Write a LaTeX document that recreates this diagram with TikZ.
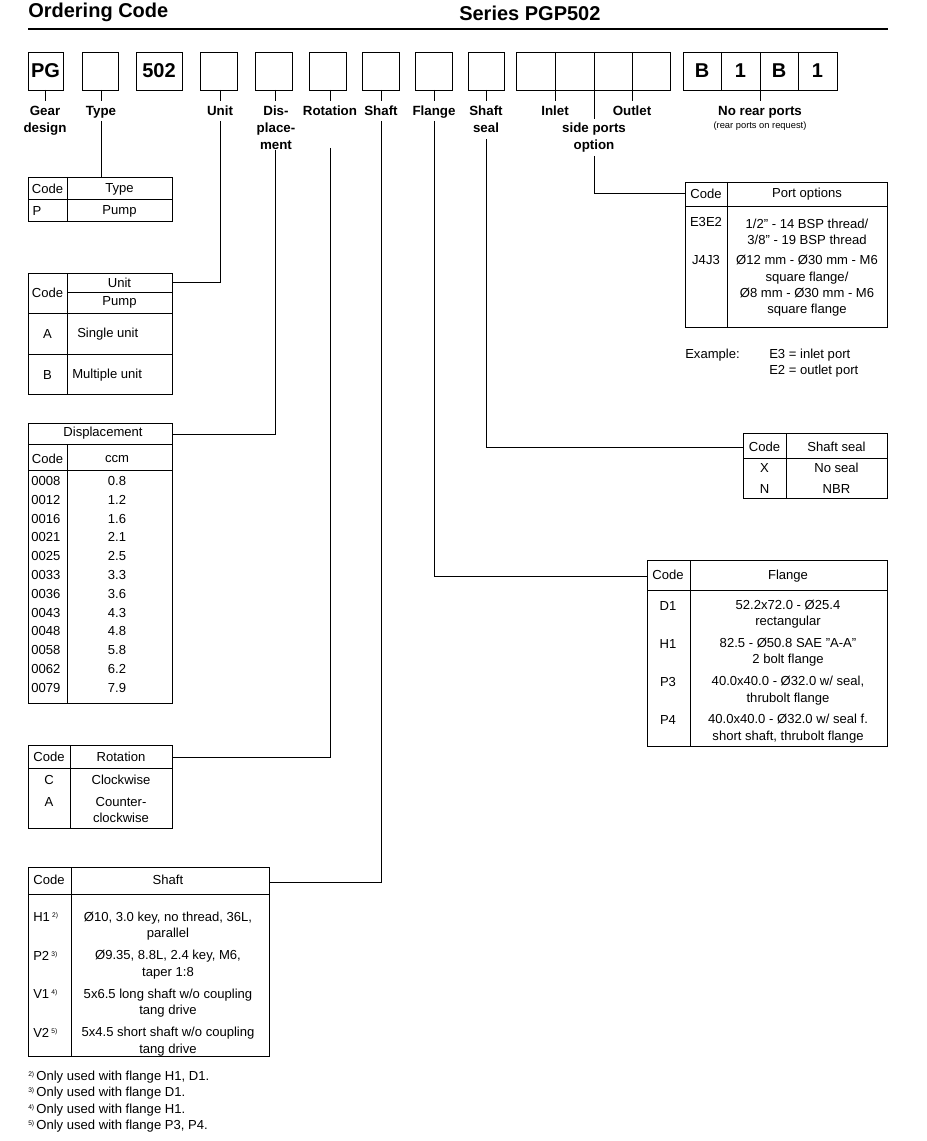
\documentclass[tikz,border=0pt]{standalone}
\usepackage{fontspec}
\setmainfont{Liberation Sans}
\usetikzlibrary{positioning}
\begin{document}
\begin{tikzpicture}[
  x=0.75pt, y=-0.75pt,
  every node/.style={inner sep=0pt, font=\fontsize{9.8}{12.2}\selectfont},
  lbl/.style={font=\fontsize{10}{12.5}\selectfont\bfseries, align=center, anchor=north},
  tcell/.style={align=center},
  grid/.style={draw, line width=0.7pt},
  lead/.style={draw, line width=0.5pt}
  ]
  \useasboundingbox (0,0) rectangle (926,1141);

  % title
  \node[anchor=west, font=\fontsize{15}{16}\selectfont\bfseries] (title) at (28,12) {Ordering Code};
  \node[anchor=west, font=\fontsize{15}{16}\selectfont\bfseries] (series) at (459,13) {Series PGP502};
  \draw[line width=2.2pt] (28,29) -- (888,29);

  % code boxes
  \draw[grid] (28,52) rectangle (63,90);
  \node[font=\fontsize{15}{15}\selectfont\bfseries] (bPG) at (45.5,71) {PG};
  \draw[grid] (82,52) rectangle (118,90);
  \draw[grid] (136,52) rectangle (182,90);
  \node[font=\fontsize{15}{15}\selectfont\bfseries] (b502) at (159,71) {502};
  \foreach \xa/\xb in {200/237,255/292,309/346,362/399,415/452,468/504}
    \draw[grid] (\xa,52) rectangle (\xb,90);
  \draw[grid] (516,52) rectangle (670,90);
  \foreach \xx in {555,594,632} \draw[grid] (\xx,52) -- (\xx,90);
  \draw[grid] (683,52) rectangle (837,90);
  \foreach \xx in {721,760,798} \draw[grid] (\xx,52) -- (\xx,90);
  \foreach \xx/\ch in {702/B,740.5/1,779/B,817.5/1}
    \node[font=\fontsize{15}{15}\selectfont\bfseries] at (\xx,71) {\ch};

  % ticks
  \foreach \xx in {45,101,220,275,330,381,434,486,555,632,760}
    \draw[lead] (\xx,90) -- (\xx,101);
  \draw[lead] (594,90) -- (594,119);

  % labels
  \node[lbl] (lGear) at (45,106) {Gear\\design};
  \node[lbl] (lType) at (101,106) {Type};
  \node[lbl] (lUnit) at (220,106) {Unit};
  \node[lbl] (lDisp) at (276,106) {Dis-\\place-\\ment};
  \node[lbl] (lRot) at (330,106) {Rotation};
  \node[lbl] (lShaft) at (381,106) {Shaft};
  \node[lbl] (lFlange) at (434,106) {Flange};
  \node[lbl] (lSeal) at (486,106) {Shaft\\seal};
  \node[lbl] (lInlet) at (555,106) {Inlet};
  \node[lbl] (lOutlet) at (632,106) {Outlet};
  \node[lbl] (lSide) at (594,123) {side ports\\option};
  \node[lbl] (lRear) at (760,106) {No rear ports};
  \node[anchor=north, font=\fontsize{7}{8}\selectfont] (lReq) at (760,121) {(rear ports on request)};

  % leader end points
  \coordinate (cType) at (101,177);
  \coordinate (cUnit) at (172,282);
  \coordinate (cDisp) at (172,434);
  \coordinate (cRot) at (172,757);
  \coordinate (cShaft) at (269,882);
  \coordinate (cFlange) at (647,576);
  \coordinate (cSeal) at (743,447);
  \coordinate (cPort) at (685,193);

  \draw[lead] (101,121) -- (cType);
  \draw[lead] (220,121) |- (cUnit);
  \draw[lead] (275,150) |- (cDisp);
  \draw[lead] (330,148) |- (cRot);
  \draw[lead] (381,121) |- (cShaft);
  \draw[lead] (434,121) |- (cFlange);
  \draw[lead] (486,139) |- (cSeal);
  \draw[lead] (594,156) |- (cPort);

  % Type table
  \draw[grid] (28,177) rectangle (172,221);
  \draw[grid] (67,177) -- (67,221) (28,199) -- (172,199);
  \node (tTc) at (47.5,189) {Code};
  \node (tTt) at (119.5,189) {Type};
  \node (tTp) at (37,211) {P};
  \node (tTpu) at (119.5,211) {Pump};

  % Unit table
  \draw[grid] (28,273) rectangle (172,394);
  \draw[grid] (67,273) -- (67,394) (67,292) -- (172,292) (28,313) -- (172,313) (28,354) -- (172,354);
  \node (tUc) at (47.5,293) {Code};
  \node (tUu) at (119.5,283) {Unit};
  \node (tUp) at (119.5,302) {Pump};
  \node (tUa) at (47.5,334) {A};
  \node[anchor=west] (tUs) at (77,334) {Single unit};
  \node (tUb) at (47.5,375) {B};
  \node[anchor=west] (tUm) at (72,375) {Multiple unit};

  % Displacement table
  \draw[grid] (28,423) rectangle (172,703);
  \draw[grid] (28,444) -- (172,444) (28,470) -- (172,470) (67,444) -- (67,703);
  \node (tDh) at (103,433) {Displacement};
  \node (tDc) at (47.5,459) {Code};
  \node (tDccm) at (117,459) {ccm};
  \foreach \cc/\vv [count=\i from 0] in {0008/0.8,0012/1.2,0016/1.6,0021/2.1,0025/2.5,0033/3.3,0036/3.6,0043/4.3,0048/4.8,0058/5.8,0062/6.2,0079/7.9}{
    \node[anchor=west] at (31,481+\i*18.8) {\cc};
    \node at (117,481+\i*18.8) {\vv};
  }

  % Rotation table
  \draw[grid] (28,745) rectangle (172,828);
  \draw[grid] (28,768) -- (172,768) (70,745) -- (70,828);
  \node (tRc) at (49,757) {Code};
  \node (tRr) at (121,757) {Rotation};
  \node (tRC) at (49,780) {C};
  \node (tRcw) at (121,780) {Clockwise};
  \node (tRA) at (49,802) {A};
  \node[tcell] (tRccw) at (121,810) {Counter-\\clockwise};

  % Shaft table
  \draw[grid] (28,867) rectangle (269,1056);
  \draw[grid] (28,894) -- (269,894) (71,867) -- (71,1056);
  \node (tSc) at (49,880) {Code};
  \node (tSs) at (168,880) {Shaft};
  \foreach \cc/\fn/\ta/\tb [count=\i from 0] in {H1/2/{Ø10, 3.0 key, no thread, 36L,}/parallel,P2/3/{Ø9.35, 8.8L, 2.4 key, M6,}/{taper 1:8},V1/4/{5x6.5 long shaft w/o coupling}/{tang drive},V2/5/{5x4.5 short shaft w/o coupling}/{tang drive}}{
    \node[anchor=west] at (33,917+\i*38.5) {\cc\,\raisebox{3pt}{\fontsize{5}{5}\selectfont\fn)}};
    \node[tcell] at (168,926+\i*38.5) {\ta\\\tb};
  }

  % footnotes
  \foreach \fn/\tt [count=\i from 0] in {2/{H1, D1.},3/D1.,4/H1.,5/{P3, P4.}}
    \node[anchor=west] at (28,1077+\i*16.4) {\raisebox{3pt}{\fontsize{5}{5}\selectfont\fn)}\,Only used with flange \tt};

  % Port options table
  \draw[grid] (685,182) rectangle (887,327);
  \draw[grid] (685,206) -- (887,206) (727,182) -- (727,327);
  \node (tPc) at (706,194) {Code};
  \node (tPo) at (807,194) {Port options};
  \node (tPe) at (706,222) {E3E2};
  \node[tcell] (tPet) at (807,231.5) {1/2" - 14 BSP thread/\\3/8" - 19 BSP thread};
  \node (tPj) at (706,260) {J4J3};
  \node[tcell] (tPjt) at (807,286) {Ø12 mm - Ø30 mm - M6\\square flange/\\Ø8 mm - Ø30 mm - M6\\square flange};
  \node[anchor=west] (tEx) at (685,355) {Example:};
  \node[anchor=west, align=left] (tExt) at (769,363) {E3 = inlet port\\E2 = outlet port};

  % Shaft seal table
  \draw[grid] (743,433) rectangle (887,498);
  \draw[grid] (743,458) -- (887,458) (786,433) -- (786,498);
  \node (tSsc) at (764.5,447) {Code};
  \node (tSst) at (836.5,447) {Shaft seal};
  \node (tSsx) at (764.5,468) {X};
  \node (tSsn) at (836.5,468) {No seal};
  \node (tSsN) at (764.5,489) {N};
  \node (tSsb) at (836.5,489) {NBR};

  % Flange table
  \draw[grid] (647,560) rectangle (887,746);
  \draw[grid] (647,590) -- (887,590) (690,560) -- (690,746);
  \node (tFc) at (668,575) {Code};
  \node (tFf) at (788,576) {Flange};
  \foreach \cc/\ta/\tb [count=\i from 0] in {D1/{52.2x72.0 - Ø25.4}/rectangular,H1/{82.5 - Ø50.8 SAE "A-A"}/{2 bolt flange},P3/{40.0x40.0 - Ø32.0 w/ seal,}/{thrubolt flange},P4/{40.0x40.0 - Ø32.0 w/ seal f.}/{short shaft, thrubolt flange}}{
    \node at (668,606+\i*38) {\cc};
    \node[tcell] at (788,614.5+\i*38) {\ta\\\tb};
  }
\end{tikzpicture}
\end{document}
